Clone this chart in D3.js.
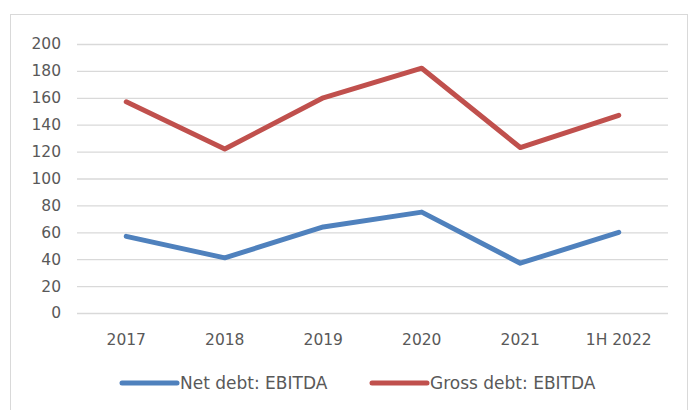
<!DOCTYPE html>
<html>
<head>
<meta charset="utf-8">
<script src="https://cdn.jsdelivr.net/npm/d3@7"></script>
<style>
  body { margin: 0; background: #fff; }
  text { font-family: "DejaVu Sans", sans-serif; fill: #595959; }
</style>
</head>
<body>
<div id="chart"></div>
<script>
// chart data
var categories = ["2017", "2018", "2019", "2020", "2021", "1H 2022"];
var netDebt = [57, 41, 64, 75, 37, 60];
var grossDebt = [157, 122, 160, 182, 123, 147];
var yTicks = [0, 20, 40, 60, 80, 100, 120, 140, 160, 180, 200];
var seriesNames = ["Net debt: EBITDA", "Gross debt: EBITDA"];
var seriesColors = ["#4F81BD", "#C0504D"];

var W = 692, H = 410;
var margin = {top: 44, right: 24, bottom: 97, left: 77},
    width = W - margin.left - margin.right,
    height = H - margin.top - margin.bottom;

var svg = d3.select("#chart").append("svg")
  .attr("width", W)
  .attr("height", H);

// outer frame
svg.append("rect")
  .attr("x", 10.5).attr("y", 14.5)
  .attr("width", 677).attr("height", 420)
  .attr("fill", "none")
  .attr("stroke", "#d9d9d9")
  .attr("stroke-width", 1);

var g = svg.append("g")
  .attr("transform", "translate(" + margin.left + "," + margin.top + ")");

var x = d3.scaleBand().domain(categories).range([0, width]);
var y = d3.scaleLinear().domain([0, 200]).range([height, 0]);

// grid + y labels
var yAxis = g.append("g")
  .call(d3.axisLeft(y).tickValues(yTicks).tickSize(-width).tickPadding(16));
yAxis.select(".domain").remove();
yAxis.selectAll(".tick line").attr("stroke", "#d9d9d9").attr("stroke-width", 1.3);
yAxis.selectAll(".tick text").style("font-size", "15.5px").attr("fill", "#595959");

var xAxis = g.append("g")
  .attr("transform", "translate(0," + height + ")")
  .call(d3.axisBottom(x).tickSize(0).tickPadding(21));
xAxis.select(".domain").remove();
xAxis.selectAll(".tick text").style("font-size", "15.5px").attr("fill", "#595959");

var line = d3.line()
  .x(function(d, i) { return x(categories[i]) + x.bandwidth() / 2; })
  .y(function(d) { return y(d); });

[netDebt, grossDebt].forEach(function(s, i) {
  g.append("path")
    .datum(s)
    .attr("fill", "none")
    .attr("stroke", seriesColors[i])
    .attr("stroke-width", 5)
    .attr("stroke-linecap", "round")
    .attr("stroke-linejoin", "round")
    .attr("d", line);
});

// legend
var legendX = [122, 372];
var legend = svg.append("g");
seriesNames.forEach(function(name, i) {
  legend.append("line")
    .attr("x1", legendX[i]).attr("x2", legendX[i] + 55)
    .attr("y1", 383).attr("y2", 383)
    .attr("stroke", seriesColors[i])
    .attr("stroke-width", 5)
    .attr("stroke-linecap", "round");
  legend.append("text")
    .attr("x", legendX[i] + 58)
    .attr("y", 383)
    .attr("dy", "0.36em")
    .style("font-size", "17px")
    .text(name);
});
</script>
</body>
</html>
